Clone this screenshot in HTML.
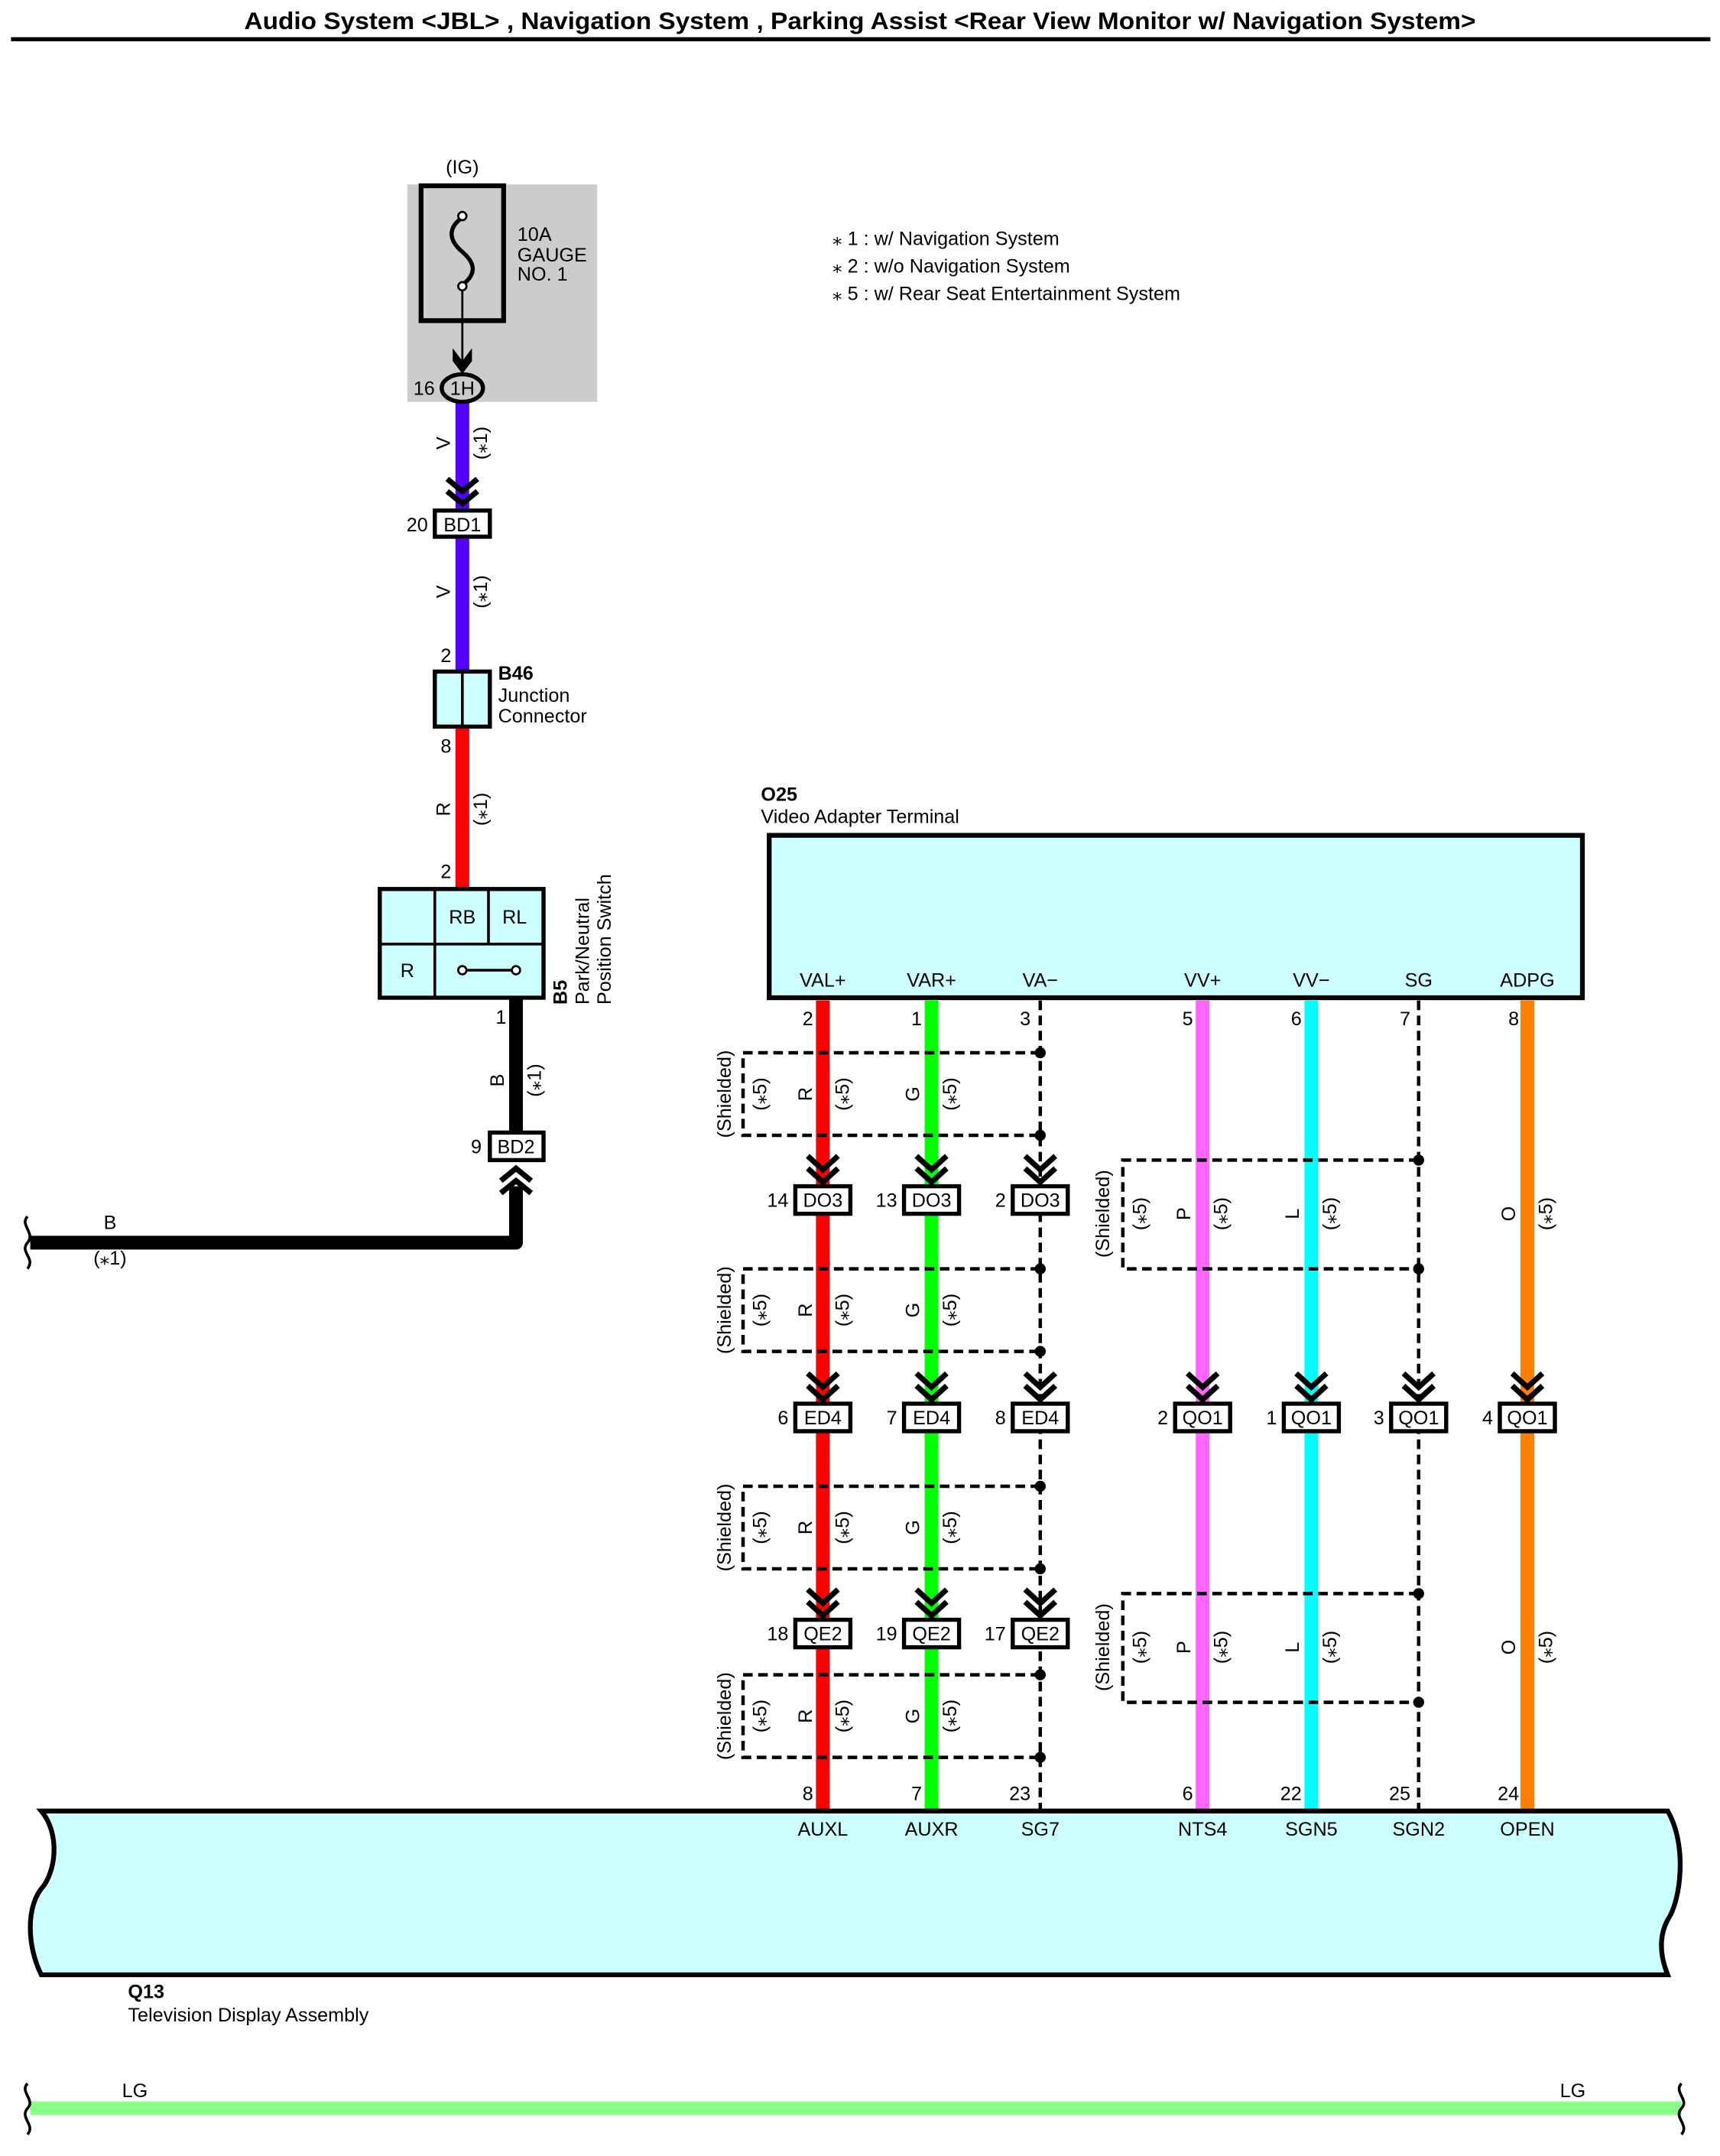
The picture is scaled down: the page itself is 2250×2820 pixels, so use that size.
<!DOCTYPE html>
<html><head><meta charset="utf-8"><style>
html,body{margin:0;padding:0;background:#fff}
svg{display:block}
text{font-family:"Liberation Sans",Arial,sans-serif;font-size:14px;fill:#000}
.b{font-weight:bold}
.c{text-anchor:middle}
.e{text-anchor:end}
.ch{fill:none;stroke:#000;stroke-width:4}
.cb{fill:#fff;stroke:#000;stroke-width:3}
.sh{fill:none;stroke:#000;stroke-width:2.5;stroke-dasharray:7,4}
.dw{stroke:#000;stroke-width:2.5;stroke-dasharray:7,4}
</style></head><body>
<svg width="2250" height="2820" viewBox="0 0 1250 1566.67" xmlns="http://www.w3.org/2000/svg">
<text x="625" y="21" class="b c" style="font-size:17.5px" textLength="895" lengthAdjust="spacingAndGlyphs">Audio System &lt;JBL&gt; , Navigation System , Parking Assist &lt;Rear View Monitor w/ Navigation System&gt;</text>
<line x1="8" y1="28.5" x2="1243" y2="28.5" stroke="#000" stroke-width="3"/>

<text x="605" y="178">⁎ 1 : w/ Navigation System</text>
<text x="605" y="198">⁎ 2 : w/o Navigation System</text>
<text x="605" y="218">⁎ 5 : w/ Rear Seat Entertainment System</text>

<rect x="296" y="134" width="138" height="158" fill="#cccccc"/>
<text x="336" y="126" class="c">(IG)</text>
<rect x="306" y="135" width="60" height="98" fill="none" stroke="#000" stroke-width="3.5"/>
<path d="M336 158 C322 168,330 178,336 183 C344 190,348 198,336 207" fill="none" stroke="#000" stroke-width="3"/>
<circle cx="336" cy="157" r="3" fill="#fff" stroke="#000" stroke-width="1.5"/>
<circle cx="336" cy="208" r="3" fill="#fff" stroke="#000" stroke-width="1.5"/>
<line x1="336" y1="211" x2="336" y2="268" stroke="#000" stroke-width="1.5"/>
<path d="M330 256 L336 264 L342 256 L342 262 L336 270 L330 262 Z" fill="#000" stroke="#000" stroke-width="2"/>
<text x="376" y="175">10A</text>
<text x="376" y="190">GAUGE</text>
<text x="376" y="204">NO. 1</text>

<rect x="331" y="292" width="10" height="80" fill="#5500ff"/>
<rect x="331" y="390" width="10" height="98" fill="#5500ff"/>
<rect x="331" y="528" width="10" height="118" fill="#ff0000"/>
<rect x="370" y="726" width="10" height="98" fill="#000"/>
<ellipse cx="336" cy="282" rx="15" ry="10" fill="#ccc" stroke="#000" stroke-width="3"/>
<text x="336" y="287" class="c">1H</text>
<text x="316" y="287" class="e">16</text>
<text x="327" y="322" class="c" transform="rotate(-90 327 322)">V</text>
<text x="354" y="322" class="c" transform="rotate(-90 354 322)">(⁎1)</text>
<path class="ch" d="M325 348 L336 357 L347 348 M325 357 L336 366 L347 357"/>
<rect x="316" y="371" width="40" height="19" class="cb"/>
<text x="336" y="386" class="c">BD1</text>
<text x="311" y="386" class="e">20</text>
<text x="327" y="430" class="c" transform="rotate(-90 327 430)">V</text>
<text x="354" y="430" class="c" transform="rotate(-90 354 430)">(⁎1)</text>
<text x="328" y="481" class="e">2</text>
<rect x="316" y="488" width="40" height="40" fill="#ccffff" stroke="#000" stroke-width="3"/>
<line x1="336" y1="488" x2="336" y2="528" stroke="#000" stroke-width="2"/>
<text x="362" y="494" class="b">B46</text>
<text x="362" y="510">Junction</text>
<text x="362" y="525">Connector</text>
<text x="328" y="547" class="e">8</text>
<text x="327" y="588" class="c" transform="rotate(-90 327 588)">R</text>
<text x="354" y="588" class="c" transform="rotate(-90 354 588)">(⁎1)</text>
<text x="328" y="638" class="e">2</text>
<rect x="276" y="646" width="119" height="79" fill="#ccffff" stroke="#000" stroke-width="3"/>
<line x1="316" y1="646" x2="316" y2="725" stroke="#000" stroke-width="2"/>
<line x1="355" y1="646" x2="355" y2="686" stroke="#000" stroke-width="2"/>
<line x1="276" y1="686" x2="395" y2="686" stroke="#000" stroke-width="2"/>
<text x="336" y="671" class="c">RB</text>
<text x="374" y="671" class="c">RL</text>
<text x="296" y="710" class="c">R</text>
<line x1="336" y1="705" x2="375" y2="705" stroke="#000" stroke-width="2"/>
<circle cx="336" cy="705" r="3" fill="#fff" stroke="#000" stroke-width="1.5"/>
<circle cx="375" cy="705" r="3" fill="#fff" stroke="#000" stroke-width="1.5"/>
<text x="412" y="730" class="b" transform="rotate(-90 412 730)">B5</text>
<text x="428" y="730" transform="rotate(-90 428 730)">Park/Neutral</text>
<text x="444" y="730" transform="rotate(-90 444 730)">Position Switch</text>
<text x="368" y="744" class="e">1</text>
<text x="366" y="785" class="c" transform="rotate(-90 366 785)">B</text>
<text x="393" y="785" class="c" transform="rotate(-90 393 785)">(⁎1)</text>
<rect x="356" y="823" width="39" height="20" class="cb"/>
<text x="375" y="838" class="c">BD2</text>
<text x="350" y="838" class="e">9</text>
<path class="ch" d="M364 858 L375 849 L386 858 M364 867 L375 858 L386 867"/>
<path d="M375 862 L375 903 L22 903" fill="none" stroke="#000" stroke-width="10" stroke-linejoin="round"/>
<path d="M20 884 C14 890,26 896,20 903 C14 910,26 914,20 922" fill="none" stroke="#000" stroke-width="2"/>
<text x="80" y="893" class="c">B</text>
<text x="80" y="919" class="c">(⁎1)</text>

<text x="553" y="582" class="b">O25</text>
<text x="553" y="598">Video Adapter Terminal</text>
<rect x="559" y="607" width="591" height="118" fill="#ccffff" stroke="#000" stroke-width="3.5"/>
<text x="598" y="717" class="c">VAL+</text><text x="677" y="717" class="c">VAR+</text><text x="756" y="717" class="c">VA−</text>
<text x="874" y="717" class="c">VV+</text><text x="953" y="717" class="c">VV−</text><text x="1031" y="717" class="c">SG</text><text x="1110" y="717" class="c">ADPG</text>

<rect x="593" y="727" width="10" height="589" fill="#ff0000"/>
<rect x="672" y="727" width="10" height="589" fill="#00ff00"/>
<rect x="869" y="727" width="10" height="589" fill="#ff66ff"/>
<rect x="948" y="727" width="10" height="589" fill="#00ffff"/>
<rect x="1105" y="727" width="10" height="589" fill="#ff8000"/>
<line x1="756" y1="727" x2="756" y2="1316" class="dw"/>
<line x1="1031" y1="727" x2="1031" y2="1316" class="dw"/>

<text x="591" y="745" class="e">2</text><text x="670" y="745" class="e">1</text><text x="749" y="745" class="e">3</text>
<text x="867" y="745" class="e">5</text><text x="946" y="745" class="e">6</text><text x="1025" y="745" class="e">7</text><text x="1104" y="745" class="e">8</text>

<path class="sh" d="M756 765 H540 V825 H756 M756 922 H540 V982 H756 M756 1080 H540 V1140 H756 M756 1217 H540 V1277 H756"/>
<circle cx="756" cy="765" r="4"/><circle cx="756" cy="825" r="4"/>
<circle cx="756" cy="922" r="4"/><circle cx="756" cy="982" r="4"/>
<circle cx="756" cy="1080" r="4"/><circle cx="756" cy="1140" r="4"/>
<circle cx="756" cy="1217" r="4"/><circle cx="756" cy="1277" r="4"/>

<text x="531" y="795" class="c" transform="rotate(-90 531 795)">(Shielded)</text>
<text x="557" y="795" class="c" transform="rotate(-90 557 795)">(⁎5)</text>
<text x="590" y="795" class="c" transform="rotate(-90 590 795)">R</text>
<text x="617" y="795" class="c" transform="rotate(-90 617 795)">(⁎5)</text>
<text x="668" y="795" class="c" transform="rotate(-90 668 795)">G</text>
<text x="695" y="795" class="c" transform="rotate(-90 695 795)">(⁎5)</text>

<text x="531" y="952" class="c" transform="rotate(-90 531 952)">(Shielded)</text>
<text x="557" y="952" class="c" transform="rotate(-90 557 952)">(⁎5)</text>
<text x="590" y="952" class="c" transform="rotate(-90 590 952)">R</text>
<text x="617" y="952" class="c" transform="rotate(-90 617 952)">(⁎5)</text>
<text x="668" y="952" class="c" transform="rotate(-90 668 952)">G</text>
<text x="695" y="952" class="c" transform="rotate(-90 695 952)">(⁎5)</text>

<text x="531" y="1110" class="c" transform="rotate(-90 531 1110)">(Shielded)</text>
<text x="557" y="1110" class="c" transform="rotate(-90 557 1110)">(⁎5)</text>
<text x="590" y="1110" class="c" transform="rotate(-90 590 1110)">R</text>
<text x="617" y="1110" class="c" transform="rotate(-90 617 1110)">(⁎5)</text>
<text x="668" y="1110" class="c" transform="rotate(-90 668 1110)">G</text>
<text x="695" y="1110" class="c" transform="rotate(-90 695 1110)">(⁎5)</text>

<text x="531" y="1247" class="c" transform="rotate(-90 531 1247)">(Shielded)</text>
<text x="557" y="1247" class="c" transform="rotate(-90 557 1247)">(⁎5)</text>
<text x="590" y="1247" class="c" transform="rotate(-90 590 1247)">R</text>
<text x="617" y="1247" class="c" transform="rotate(-90 617 1247)">(⁎5)</text>
<text x="668" y="1247" class="c" transform="rotate(-90 668 1247)">G</text>
<text x="695" y="1247" class="c" transform="rotate(-90 695 1247)">(⁎5)</text>

<path class="sh" d="M1031 843 H816 V922 H1031 M1031 1158 H816 V1237 H1031"/>
<circle cx="1031" cy="843" r="4"/><circle cx="1031" cy="922" r="4"/>
<circle cx="1031" cy="1158" r="4"/><circle cx="1031" cy="1237" r="4"/>

<text x="806" y="882" class="c" transform="rotate(-90 806 882)">(Shielded)</text>
<text x="833" y="882" class="c" transform="rotate(-90 833 882)">(⁎5)</text>
<text x="865" y="882" class="c" transform="rotate(-90 865 882)">P</text>
<text x="892" y="882" class="c" transform="rotate(-90 892 882)">(⁎5)</text>
<text x="944" y="882" class="c" transform="rotate(-90 944 882)">L</text>
<text x="971" y="882" class="c" transform="rotate(-90 971 882)">(⁎5)</text>
<text x="1101" y="882" class="c" transform="rotate(-90 1101 882)">O</text>
<text x="1128" y="882" class="c" transform="rotate(-90 1128 882)">(⁎5)</text>

<text x="806" y="1197" class="c" transform="rotate(-90 806 1197)">(Shielded)</text>
<text x="833" y="1197" class="c" transform="rotate(-90 833 1197)">(⁎5)</text>
<text x="865" y="1197" class="c" transform="rotate(-90 865 1197)">P</text>
<text x="892" y="1197" class="c" transform="rotate(-90 892 1197)">(⁎5)</text>
<text x="944" y="1197" class="c" transform="rotate(-90 944 1197)">L</text>
<text x="971" y="1197" class="c" transform="rotate(-90 971 1197)">(⁎5)</text>
<text x="1101" y="1197" class="c" transform="rotate(-90 1101 1197)">O</text>
<text x="1128" y="1197" class="c" transform="rotate(-90 1128 1197)">(⁎5)</text>

<path class="ch" d="M587 840 L598 850 L609 840 M587 849 L598 859 L609 849
M666 840 L677 850 L688 840 M666 849 L677 859 L688 849
M745 840 L756 850 L767 840 M745 849 L756 859 L767 849
M587 998 L598 1008 L609 998 M587 1007 L598 1017 L609 1007
M666 998 L677 1008 L688 998 M666 1007 L677 1017 L688 1007
M745 998 L756 1008 L767 998 M745 1007 L756 1017 L767 1007
M863 998 L874 1008 L885 998 M863 1007 L874 1017 L885 1007
M942 998 L953 1008 L964 998 M942 1007 L953 1017 L964 1007
M1020 998 L1031 1008 L1042 998 M1020 1007 L1031 1017 L1042 1007
M1099 998 L1110 1008 L1121 998 M1099 1007 L1110 1017 L1121 1007
M587 1155 L598 1165 L609 1155 M587 1164 L598 1174 L609 1164
M666 1155 L677 1165 L688 1155 M666 1164 L677 1174 L688 1164
M745 1155 L756 1165 L767 1155 M745 1164 L756 1174 L767 1164"/>

<rect x="578" y="862" width="40" height="20" class="cb"/><text x="598" y="877" class="c">DO3</text><text x="573" y="877" class="e">14</text>
<rect x="657" y="862" width="40" height="20" class="cb"/><text x="677" y="877" class="c">DO3</text><text x="652" y="877" class="e">13</text>
<rect x="736" y="862" width="40" height="20" class="cb"/><text x="756" y="877" class="c">DO3</text><text x="731" y="877" class="e">2</text>

<rect x="578" y="1020" width="40" height="20" class="cb"/><text x="598" y="1035" class="c">ED4</text><text x="573" y="1035" class="e">6</text>
<rect x="657" y="1020" width="40" height="20" class="cb"/><text x="677" y="1035" class="c">ED4</text><text x="652" y="1035" class="e">7</text>
<rect x="736" y="1020" width="40" height="20" class="cb"/><text x="756" y="1035" class="c">ED4</text><text x="731" y="1035" class="e">8</text>
<rect x="854" y="1020" width="40" height="20" class="cb"/><text x="874" y="1035" class="c">QO1</text><text x="849" y="1035" class="e">2</text>
<rect x="933" y="1020" width="40" height="20" class="cb"/><text x="953" y="1035" class="c">QO1</text><text x="928" y="1035" class="e">1</text>
<rect x="1011" y="1020" width="40" height="20" class="cb"/><text x="1031" y="1035" class="c">QO1</text><text x="1006" y="1035" class="e">3</text>
<rect x="1090" y="1020" width="40" height="20" class="cb"/><text x="1110" y="1035" class="c">QO1</text><text x="1085" y="1035" class="e">4</text>

<rect x="578" y="1177" width="40" height="20" class="cb"/><text x="598" y="1192" class="c">QE2</text><text x="573" y="1192" class="e">18</text>
<rect x="657" y="1177" width="40" height="20" class="cb"/><text x="677" y="1192" class="c">QE2</text><text x="652" y="1192" class="e">19</text>
<rect x="736" y="1177" width="40" height="20" class="cb"/><text x="756" y="1192" class="c">QE2</text><text x="731" y="1192" class="e">17</text>

<text x="591" y="1308" class="e">8</text><text x="670" y="1308" class="e">7</text><text x="749" y="1308" class="e">23</text>
<text x="867" y="1308" class="e">6</text><text x="946" y="1308" class="e">22</text><text x="1025" y="1308" class="e">25</text><text x="1104" y="1308" class="e">24</text>

<path d="M30 1316 L1212 1316 C1226 1340,1222 1380,1212 1395 C1204 1410,1208 1425,1212 1435 L30 1435 C20 1415,18 1385,32 1370 C42 1355,42 1330,30 1316 Z" fill="#ccffff" stroke="#000" stroke-width="3.5"/>
<text x="598" y="1334" class="c">AUXL</text><text x="677" y="1334" class="c">AUXR</text><text x="756" y="1334" class="c">SG7</text>
<text x="874" y="1334" class="c">NTS4</text><text x="953" y="1334" class="c">SGN5</text><text x="1031" y="1334" class="c">SGN2</text><text x="1110" y="1334" class="c">OPEN</text>
<text x="93" y="1452" class="b">Q13</text>
<text x="93" y="1469">Television Display Assembly</text>

<line x1="22" y1="1532" x2="1222" y2="1532" stroke="#88ff88" stroke-width="10"/>
<path d="M20 1514 C14 1520,26 1526,20 1532 C14 1539,26 1544,20 1551" fill="none" stroke="#000" stroke-width="2"/>
<path d="M1222 1514 C1216 1520,1228 1526,1222 1532 C1216 1539,1228 1544,1222 1551" fill="none" stroke="#000" stroke-width="2"/>
<text x="98" y="1524" class="c">LG</text>
<text x="1143" y="1524" class="c">LG</text>
</svg>
</body></html>
